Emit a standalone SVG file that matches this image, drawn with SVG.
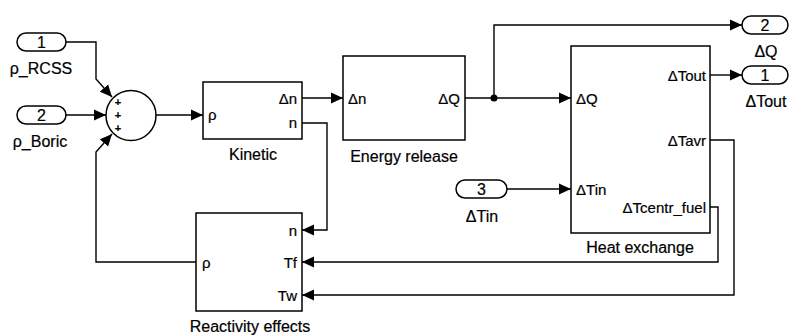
<svg xmlns="http://www.w3.org/2000/svg" width="789" height="336" viewBox="0 0 789 336">
<style>
text{font-family:"Liberation Sans",Arial,sans-serif;fill:#000;stroke:#000;stroke-width:0.2}
.blk{fill:#fff;stroke:#000;stroke-width:1.5}
.port{font-size:15px}
.lbl{font-size:16px;text-anchor:middle}
.num{font-size:16px;text-anchor:middle}
.r{text-anchor:end}
.ln{fill:none;stroke:#000;stroke-width:1.4}
.plus{font-size:11px;text-anchor:middle;font-weight:bold}
</style>
<defs>
<marker id="arr" markerUnits="userSpaceOnUse" markerWidth="12" markerHeight="12" refX="12" refY="6" orient="auto">
<path d="M0,0.5 L12,6 L0,11.5 z" fill="#000"/>
</marker>
</defs>
<rect width="789" height="336" fill="#fff"/>
<g id="connectors">
<path class="ln" d="M66,42 H96 V79 L112,97" marker-end="url(#arr)"/>
<path class="ln" d="M66,115 H106" marker-end="url(#arr)"/>
<path class="ln" d="M196,262 H96 V152 L112,134" marker-end="url(#arr)"/>
<path class="ln" d="M156,115 H203" marker-end="url(#arr)"/>
<path class="ln" d="M302,98 H343" marker-end="url(#arr)"/>
<path class="ln" d="M302,123 H327 V230 H302" marker-end="url(#arr)"/>
<path class="ln" d="M465,98 H571" marker-end="url(#arr)"/>
<path class="ln" d="M494,98 V25 H742" marker-end="url(#arr)"/>
<circle cx="494" cy="98" r="3.5" fill="#000"/>
<path class="ln" d="M710,75 H742" marker-end="url(#arr)"/>
<path class="ln" d="M507,189 H571" marker-end="url(#arr)"/>
<path class="ln" d="M710,140 H734 V295 H302" marker-end="url(#arr)"/>
<path class="ln" d="M710,207 H718 V262 H302" marker-end="url(#arr)"/>
</g>
<g id="in1">
<rect class="blk" x="17" y="33" width="49" height="18" rx="9"/>
<text class="num" x="41.5" y="48">1</text>
<text class="lbl" x="41" y="74">ρ_RCSS</text>
</g>
<g id="in2">
<rect class="blk" x="17" y="106" width="49" height="18" rx="9"/>
<text class="num" x="41.5" y="121">2</text>
<text class="lbl" x="40" y="147">ρ_Boric</text>
</g>
<g id="sum">
<circle class="blk" cx="131" cy="115.5" r="25"/>
<text class="plus" x="118" y="106">+</text>
<text class="plus" x="118" y="119">+</text>
<text class="plus" x="118" y="132">+</text>
</g>
<g id="kinetic">
<rect class="blk" x="203" y="82" width="99" height="57"/>
<text class="port" x="208" y="120">ρ</text>
<text class="port r" x="297" y="103.5">Δn</text>
<text class="port r" x="297" y="128">n</text>
<text class="lbl" x="253" y="160">Kinetic</text>
</g>
<g id="energy">
<rect class="blk" x="343" y="56" width="122" height="84"/>
<text class="port" x="348" y="103.5">Δn</text>
<text class="port r" x="460" y="103.5">ΔQ</text>
<text class="lbl" x="404" y="162">Energy release</text>
</g>
<g id="heat">
<rect class="blk" x="571" y="46" width="139" height="187"/>
<text class="port" x="576" y="103.5">ΔQ</text>
<text class="port" x="576" y="194.5">ΔTin</text>
<text class="port r" x="706" y="80.5">ΔTout</text>
<text class="port r" x="706" y="145.5">ΔTavr</text>
<text class="port r" x="706" y="212.5">ΔTcentr_fuel</text>
<text class="lbl" x="640" y="253">Heat exchange</text>
</g>
<g id="in3">
<rect class="blk" x="456" y="180" width="51" height="18" rx="9"/>
<text class="num" x="481.5" y="195">3</text>
<text class="lbl" x="482" y="222">ΔTin</text>
</g>
<g id="out2">
<rect class="blk" x="742" y="16" width="46" height="18" rx="9"/>
<text class="num" x="765" y="31">2</text>
<text class="lbl" x="766" y="57">ΔQ</text>
</g>
<g id="out1">
<rect class="blk" x="742" y="66" width="46" height="18" rx="9"/>
<text class="num" x="765" y="81">1</text>
<text class="lbl" x="766" y="107">ΔTout</text>
</g>
<g id="reactivity">
<rect class="blk" x="196" y="213" width="106" height="98"/>
<text class="port" x="202" y="267.5">ρ</text>
<text class="port r" x="297" y="235.5">n</text>
<text class="port r" x="297" y="267.5">Tf</text>
<text class="port r" x="297" y="300.5">Tw</text>
<text class="lbl" x="250" y="332">Reactivity effects</text>
</g>
</svg>
